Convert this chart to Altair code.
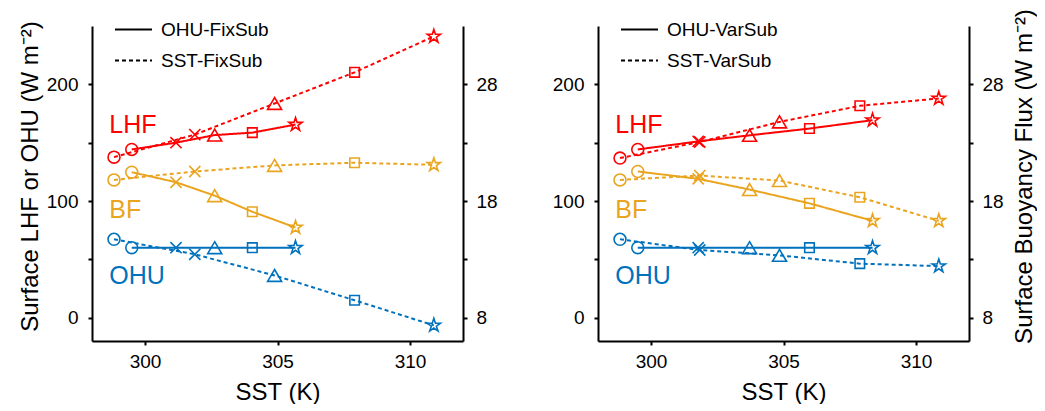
import altair as alt
import pandas as pd

# ---------------- data ----------------
markers = ["circle", "x", "triangle", "square", "star"]

# FixSub panel
sst_ohu_fix = [299.50, 301.17, 302.63, 304.05, 305.68]
lhf_ohu_fix = [144.2, 150.0, 156.5, 158.6, 165.5]
bf_ohu_fix = [20.47, 19.61, 18.46, 17.08, 15.73]
ohu_ohu_fix = [60.0, 60.0, 60.0, 60.0, 60.0]

sst_sst_fix = [298.83, 301.88, 304.89, 307.91, 310.90]
lhf_sst_fix = [137.6, 156.9, 183.6, 210.3, 241.1]
bf_sst_fix = [19.81, 20.53, 21.05, 21.28, 21.10]
ohu_sst_fix = [67.2, 54.3, 36.2, 14.9, -6.6]

# VarSub panel
sst_ohu_var = [299.50, 301.78, 303.72, 305.98, 308.36]
lhf_ohu_var = [144.2, 151.1, 156.3, 162.1, 169.3]
bf_ohu_var = [20.53, 19.90, 18.98, 17.80, 16.30]
ohu_ohu_var = [60.0, 60.0, 60.0, 60.0, 60.0]

sst_sst_var = [298.83, 301.84, 304.85, 307.88, 310.86]
lhf_sst_var = [136.8, 150.6, 167.8, 181.6, 187.9]
bf_sst_var = [19.81, 20.18, 19.75, 18.32, 16.30]
ohu_sst_var = [67.2, 58.0, 53.4, 46.3, 44.2]

# in-panel variable labels
label_names = ["LHF", "BF", "OHU"]
label_sst = [298.65, 298.65, 298.65]
label_val = [165.5, 17.2, 36.0]  # BF on right axis units

var_names = ["LHF", "BF", "OHU"]
var_colors = ["#FF0000", "#EAA520", "#0072BD"]

marker_paths = [
    "M0.85,0A0.85,0.85,0,1,1,-0.85,0A0.85,0.85,0,1,1,0.85,0Z",
    "M-0.8,-0.8L0.8,0.8M-0.8,0.8L0.8,-0.8",
    "M0,-0.85L1,0.85L-1,0.85Z",
    "M-0.68,-0.68L0.68,-0.68L0.68,0.68L-0.68,0.68Z",
    "M0,-1L0.2245,-0.309L0.951,-0.309L0.3633,0.118L0.5878,0.809L0,0.382"
    "L-0.5878,0.809L-0.3633,0.118L-0.951,-0.309L-0.2245,-0.309Z",
]

FONT = "Liberation Sans"


def build_df(exp_names, sst_lists, series):
    rows = []
    for exp, sst, vals in zip(exp_names, sst_lists, series):
        for var in var_names:
            for i, (s, v) in enumerate(zip(sst, vals[var])):
                rows.append({"sst": s, "value": v, "var": var, "exp": exp,
                             "marker": markers[i], "series": var + exp})
    return pd.DataFrame(rows)


def panel(exp_names, sst_lists, series, left_title, right_title):
    df = build_df(exp_names, sst_lists, series)
    lab = pd.DataFrame({"var": label_names, "sst": label_sst, "value": label_val})

    x = alt.X("sst:Q", scale=alt.Scale(domain=[298, 312], nice=False, zero=False),
              axis=alt.Axis(values=[300, 305, 310], title="SST (K)", titlePadding=9,
                            labelPadding=7, tickSize=4))
    color = alt.Color("var:N", scale=alt.Scale(domain=var_names, range=var_colors), legend=None)
    dash = alt.StrokeDash(
        "exp:N",
        scale=alt.Scale(domain=exp_names, range=[[1, 0], [4, 3]]),
        legend=alt.Legend(title=None, orient="none", legendX=31, legendY=-7,
                          symbolType="M-2,0L2,0", symbolSize=342, symbolStrokeWidth=2,
                          symbolStrokeColor="black", labelOffset=17, rowPadding=10,
                          labelFontSize=19, labelFont=FONT, labelColor="black"),
    )
    shape = alt.Shape("marker:N", scale=alt.Scale(domain=markers, range=marker_paths), legend=None)

    yl_axis = alt.Axis(values=[0, 50, 100, 150, 200], orient="left", title=left_title,
                       labelExpr="datum.value % 100 == 0 ? datum.label : ''",
                       labelPadding=10, titlePadding=4, tickSize=4, titleY=150)
    yr_axis = alt.Axis(values=[8, 13, 18, 23, 28], orient="right", title=right_title,
                       labelExpr="(datum.value - 8) % 10 == 0 ? datum.label : ''",
                       labelPadding=9, titlePadding=9, tickSize=4, titleAngle=270,
                       titleBaseline="top", titleY=150)
    yl = alt.Y("value:Q", scale=alt.Scale(domain=[-20, 250], nice=False, zero=False), axis=yl_axis)
    yr = alt.Y("value:Q", scale=alt.Scale(domain=[6, 33], nice=False, zero=False), axis=yr_axis)

    df_l = df[df["var"] != "BF"]
    df_r = df[df["var"] == "BF"]
    lab_l = lab[lab["var"] != "BF"]
    lab_r = lab[lab["var"] == "BF"]

    def sub(d, dl, y):
        line = alt.Chart(d).mark_line(strokeWidth=2).encode(
            x=x, y=y, color=color, strokeDash=dash, detail="series:N")
        pts = alt.Chart(d).mark_point(filled=False, size=196, strokeWidth=1.6, opacity=1).encode(
            x=x, y=y, color=color, shape=shape)
        txt = alt.Chart(dl).mark_text(align="left", baseline="middle", fontSize=25, font=FONT).encode(
            x=x, y=y, text="var:N", color=color)
        return alt.layer(line, pts, txt)

    return alt.layer(sub(df_l, lab_l, yl), sub(df_r, lab_r, yr)).resolve_scale(
        y="independent").properties(width=371, height=315)


left = panel(
    ["OHU-FixSub", "SST-FixSub"], [sst_ohu_fix, sst_sst_fix],
    [{"LHF": lhf_ohu_fix, "BF": bf_ohu_fix, "OHU": ohu_ohu_fix},
     {"LHF": lhf_sst_fix, "BF": bf_sst_fix, "OHU": ohu_sst_fix}],
    "Surface LHF or OHU (W m\u207b\u00b2)", None)
right = panel(
    ["OHU-VarSub", "SST-VarSub"], [sst_ohu_var, sst_sst_var],
    [{"LHF": lhf_ohu_var, "BF": bf_ohu_var, "OHU": ohu_ohu_var},
     {"LHF": lhf_sst_var, "BF": bf_sst_var, "OHU": ohu_sst_var}],
    None, "Surface Buoyancy Flux (W m\u207b\u00b2)")

chart = alt.hconcat(left, right, spacing=54).resolve_scale(
    strokeDash="independent", y="independent").resolve_legend(strokeDash="independent").properties(
    padding={"left": 10, "top": 0, "right": 0, "bottom": 0}
).configure_view(stroke=None).configure_axis(
    grid=False, domainColor="black", domainWidth=2, tickColor="black", tickWidth=2,
    labelFont=FONT, titleFont=FONT, labelFontSize=19, titleFontSize=24,
    titleFontWeight="normal", labelColor="black", titleColor="black"
)

chart.save("out.html", embed_options={"renderer": "svg", "actions": False})
